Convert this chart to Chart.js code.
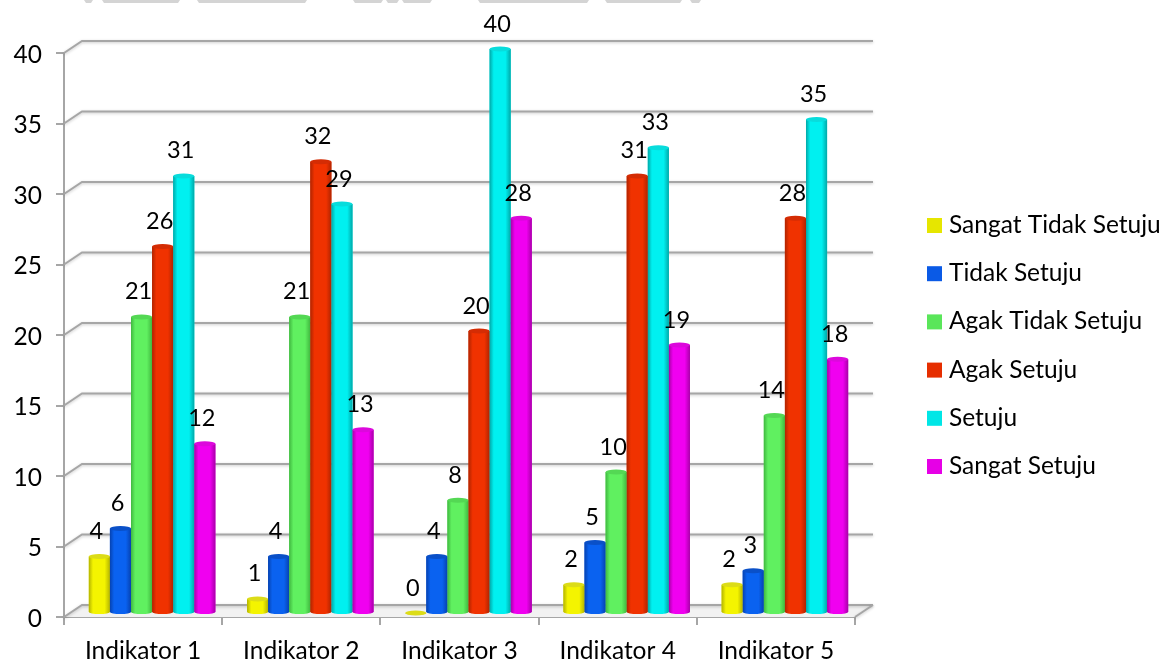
<!DOCTYPE html>
<html>
<head>
<meta charset="utf-8">
<style>
  html, body { margin: 0; padding: 0; background: #fff; }
  #wrap { width: 1162px; height: 664px; }
</style>
<script src="https://cdn.jsdelivr.net/npm/chart.js@4/dist/chart.umd.min.js"></script>
</head>
<body>
<div id="wrap"><canvas id="chart" width="1162" height="664"></canvas></div>
<script>
const categories = ['Indikator 1', 'Indikator 2', 'Indikator 3', 'Indikator 4', 'Indikator 5'];
const sangatTidakSetuju = [4, 1, 0, 2, 2];
const tidakSetuju = [6, 4, 4, 5, 3];
const agakTidakSetuju = [21, 21, 8, 10, 14];
const agakSetuju = [26, 32, 20, 31, 28];
const setuju = [31, 29, 40, 33, 35];
const sangatSetuju = [12, 13, 28, 19, 18];

const FONT = 'Lato, Carlito, sans-serif';
const FONT_SIZE = 24.5;
const VALUE_FONT_SIZE = 23.5;
const DEPTH_X = 18, DEPTH_Y = -12;   // oblique offset of the back wall
const BAR_DX = 9, BAR_DY = -4;       // bars stand midway on the floor
const GRID = '#a6a6a6';

// [legend swatch, lit face, dark edge, cap top]
const palette = [
  ['#e6e600', '#f4f400', '#b4b400', '#dcdc18'],
  ['#0a5ae6', '#0a62f0', '#0642b0', '#0a50c8'],
  ['#5ae65a', '#60f060', '#40b840', '#54d854'],
  ['#e62e00', '#f03200', '#b02400', '#d42c04'],
  ['#00e6e6', '#00f0f0', '#00a8a8', '#08dcdc'],
  ['#e600e6', '#f000f0', '#a800a8', '#dc08dc']
];

const series = [
  ['Sangat Tidak Setuju', sangatTidakSetuju],
  ['Tidak Setuju', tidakSetuju],
  ['Agak Tidak Setuju', agakTidakSetuju],
  ['Agak Setuju', agakSetuju],
  ['Setuju', setuju],
  ['Sangat Setuju', sangatSetuju]
];

// Grey page-header strips cut off along the top edge: [left, right]
const headerStrips = [[84, 93], [102, 180], [197, 307], [353, 383], [386, 399], [402, 432], [478, 589], [605, 682], [690, 701]];

const LEGEND_X = 927, LEGEND_Y = 218, LEGEND_STEP = 48.2, LEGEND_BOX = 15, LEGEND_GAP = 7;

const wallPlugin = {
  id: 'wall',
  beforeDraw(chart) {
    const { ctx } = chart;
    ctx.save();
    ctx.fillStyle = '#d4d4d4';
    headerStrips.forEach(([l, r]) => {
      ctx.beginPath();
      ctx.moveTo(l, 0);
      ctx.lineTo(r, 0);
      ctx.lineTo(r - 2, 3);
      ctx.lineTo(l + 2, 3);
      ctx.closePath();
      ctx.fill();
    });
    ctx.restore();
  },
  // Back wall, floor and side wall behind the columns.
  beforeDatasetsDraw(chart) {
    const { ctx, scales: { y }, chartArea: a } = chart;
    ctx.save();
    const fy = y.getPixelForValue(0);
    ctx.fillStyle = '#f2f2f2';
    ctx.beginPath();
    ctx.moveTo(a.left, fy);
    ctx.lineTo(a.left + DEPTH_X, fy + DEPTH_Y);
    ctx.lineTo(a.right + DEPTH_X, fy + DEPTH_Y);
    ctx.lineTo(a.right, fy);
    ctx.closePath();
    ctx.fill();
    ctx.strokeStyle = GRID;
    ctx.lineWidth = 2;
    ctx.shadowColor = 'rgba(0,0,0,0.22)';
    ctx.shadowBlur = 3;
    ctx.shadowOffsetY = 1;
    y.ticks.forEach(t => {
      const py = y.getPixelForValue(t.value);
      ctx.beginPath();
      ctx.moveTo(a.left, py);
      ctx.lineTo(a.left + DEPTH_X, py + DEPTH_Y);
      ctx.lineTo(a.right + DEPTH_X, py + DEPTH_Y);
      ctx.stroke();
    });
    ctx.beginPath();
    ctx.moveTo(a.right, fy);
    ctx.lineTo(a.right + DEPTH_X, fy + DEPTH_Y);
    ctx.stroke();
    ctx.restore();
  },
  beforeDatasetDraw(chart) {
    // flat bodies are pushed back onto the floor; shaded on top below
    chart.ctx.save();
    chart.ctx.translate(BAR_DX, BAR_DY);
  },
  afterDatasetDraw(chart) {
    chart.ctx.restore();
  },
  afterDatasetsDraw(chart) {
    const { ctx } = chart;
    chart.data.datasets.forEach((ds, di) => {
      const meta = chart.getDatasetMeta(di);
      const [, lit, dark, cap] = palette[di];
      meta.data.forEach(el => {
        const x0 = el.x + BAR_DX - el.width / 2;
        const x1 = x0 + el.width;
        const cx = (x0 + x1) / 2;
        const rx = el.width / 2;
        const top = el.y + BAR_DY;
        const base = el.base + BAR_DY;
        const g = ctx.createLinearGradient(x0, 0, x1, 0);
        g.addColorStop(0, dark);
        g.addColorStop(0.2, lit);
        g.addColorStop(0.75, lit);
        g.addColorStop(1, dark);
        ctx.save();
        ctx.fillStyle = g;
        ctx.beginPath();
        ctx.moveTo(x0, top);
        ctx.lineTo(x0, base);
        ctx.ellipse(cx, base, rx, 2, 0, Math.PI, 0, true);
        ctx.lineTo(x1, top);
        ctx.closePath();
        ctx.fill();
        ctx.fillStyle = cap;
        ctx.beginPath();
        ctx.ellipse(cx, top, rx, 2.5, 0, 0, Math.PI * 2);
        ctx.fill();
        ctx.restore();
      });
    });
    // Value captions sit over every column
    ctx.save();
    ctx.fillStyle = '#000';
    ctx.font = VALUE_FONT_SIZE + 'px ' + FONT;
    ctx.textAlign = 'center';
    ctx.textBaseline = 'middle';
    chart.data.datasets.forEach((ds, di) => {
      chart.getDatasetMeta(di).data.forEach((el, i) => {
        ctx.fillText(String(ds.data[i]), el.x + BAR_DX - 3, el.y + BAR_DY - 25);
      });
    });
    ctx.restore();
  },
  // The key stands apart from the plot, in the right margin
  afterDraw(chart) {
    const { ctx } = chart;
    ctx.save();
    ctx.font = FONT_SIZE + 'px ' + FONT;
    ctx.textAlign = 'left';
    ctx.textBaseline = 'alphabetic';
    chart.data.datasets.forEach((ds, i) => {
      const y = LEGEND_Y + i * LEGEND_STEP;
      ctx.fillStyle = ds.backgroundColor;
      ctx.fillRect(LEGEND_X, y, LEGEND_BOX, LEGEND_BOX);
      ctx.fillStyle = '#000';
      ctx.fillText(ds.label, LEGEND_X + LEGEND_BOX + LEGEND_GAP, y + 15);
    });
    ctx.restore();
  }
};

new Chart(document.getElementById('chart'), {
  type: 'bar',
  data: {
    labels: categories,
    datasets: series.map(([label, data], i) => ({
      label, data,
      backgroundColor: palette[i][0],
      borderWidth: 0,
      categoryPercentage: 0.8,
      barPercentage: 1
    }))
  },
  plugins: [wallPlugin],
  options: {
    responsive: false,
    animation: false,
    layout: { padding: { top: 53, right: 307, left: 0, bottom: 0 } },
    scales: {
      x: {
        afterFit(s) { s.height = 47; },
        grid: { drawOnChartArea: false, color: GRID, lineWidth: 2, tickLength: 8, offset: true },
        border: { color: GRID, width: 2 },
        ticks: { color: '#000', font: { family: FONT, size: FONT_SIZE }, padding: 11, maxRotation: 0 }
      },
      y: {
        min: 0, max: 40,
        afterFit(s) { s.width = 64; },
        grid: { drawOnChartArea: false, color: GRID, lineWidth: 2, tickLength: 8 },
        border: { color: GRID, width: 2 },
        ticks: { stepSize: 5, color: '#000', font: { family: FONT, size: FONT_SIZE }, padding: 14, labelOffset: 2 }
      }
    },
    plugins: {
      tooltip: { enabled: false },
      legend: { display: false }
    }
  }
});
</script>
</body>
</html>
